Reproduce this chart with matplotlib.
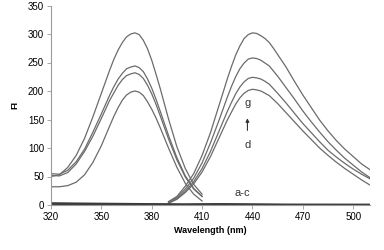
# Fluorescence excitation / emission spectra, curves d-g plus blanks a-c
import numpy as np
import matplotlib.pyplot as plt

# excitation side, 320-410 nm
ex_wl = [320, 325, 330, 335, 340, 345, 350, 355, 357.5, 360, 362.5, 365, 367.5, 370,
         372.5, 375, 377.5, 380, 382.5, 385, 390, 395, 400, 405, 410]
ex_g = [50, 53, 66, 87, 117, 155, 196, 237, 256, 272, 285, 295, 300, 302,
        299, 289, 274, 254, 230, 205, 151, 102, 64, 36, 19]
ex_f = [55, 54, 61, 76, 98, 128, 160, 193, 208, 221, 231, 239, 242, 244,
        241, 234, 221, 205, 186, 165, 122, 83, 51, 29, 15]
ex_e = [52, 51, 57, 72, 94, 121, 152, 184, 197, 210, 220, 227, 230, 232,
        229, 222, 210, 195, 177, 157, 116, 79, 49, 28, 15]
ex_d = [32, 32, 34, 40, 53, 75, 104, 139, 156, 171, 184, 193, 198, 200,
        198, 192, 181, 168, 153, 136, 100, 66, 38, 19, 7]

# emission side, 390-510 nm
em_wl = [390, 395, 400, 405, 410, 415, 420, 425, 427.5, 430, 432.5, 435, 437.5, 440,
         442.5, 445, 447.5, 450, 452.5, 455, 460, 465, 470, 475, 480, 485, 490, 495,
         500, 505, 510]
em_g = [6, 15, 33, 55, 87, 127, 174, 221, 243, 263, 279, 292, 299, 302,
        301, 297, 292, 285, 275, 264, 242, 217, 193, 171, 149, 130, 113, 98,
        85, 72, 62]
em_f = [5, 13, 28, 47, 74, 109, 148, 189, 208, 225, 239, 249, 256, 258,
        257, 254, 249, 244, 235, 226, 206, 186, 165, 146, 128, 111, 96, 82,
        70, 58, 48]
em_e = [4, 11, 24, 41, 64, 94, 129, 164, 180, 195, 207, 216, 222, 224,
        223, 221, 217, 212, 204, 196, 179, 161, 143, 127, 111, 96, 84, 73,
        63, 54, 46]
em_d = [3, 10, 22, 37, 58, 85, 117, 149, 163, 177, 188, 196, 201, 203,
        202, 200, 196, 192, 185, 178, 162, 146, 130, 115, 100, 87, 75, 64,
        54, 44, 35]

# blanks a-c, near zero over the whole range
blank_wl = [320, 340, 360, 380, 400, 420, 440, 460, 480, 500, 510]
blank_a = [3.5, 3, 2.5, 2, 1.5, 2, 1.5, 1, 1, 1, 1]
blank_b = [2.5, 2, 1.5, 1.2, 1, 1.5, 1, 0.8, 0.7, 0.6, 0.6]
blank_c = [1.5, 1, 0.8, 0.6, 0.5, 0.8, 0.5, 0.4, 0.3, 0.3, 0.3]

plt.rcParams['font.family'] = ['Liberation Sans', 'DejaVu Sans']

fig = plt.figure(figsize=(3.84, 2.5), dpi=100)
ax = fig.add_axes([0.1328, 0.18, 0.8307, 0.798])

line_col = "#6b6b6b"
for ys in [ex_g, ex_f, ex_e, ex_d]:
    ax.plot(ex_wl, ys, color=line_col, lw=0.9)
for ys in [em_g, em_f, em_e, em_d]:
    ax.plot(em_wl, ys, color=line_col, lw=0.9)
for ys in [blank_a, blank_b, blank_c]:
    ax.plot(blank_wl, ys, color="#3a3a3a", lw=1.1)

ax.set_xlim(320, 510)
ax.set_ylim(0, 350)
ax.set_xticks(range(320, 510, 30))
ax.set_yticks(range(0, 351, 50))
ax.tick_params(labelsize=7, length=3, width=0.6, color="#9a9a9a", pad=2)

for s in ['top', 'right']:
    ax.spines[s].set_visible(False)
for s in ['left', 'bottom']:
    ax.spines[s].set_color("#9a9a9a")
    ax.spines[s].set_linewidth(0.8)

ax.set_xlabel("Wavelength (nm)", fontsize=6.5, fontweight="bold", labelpad=3)
ax.set_ylabel("FI", fontsize=6.5, fontweight="bold", labelpad=6)

# labels on the chart
ax.text(437, 179, "g", fontsize=8, ha="center", va="center", color="#333333")
ax.text(437, 105, "d", fontsize=8, ha="center", va="center", color="#333333")
ax.annotate("", xy=(437, 157), xytext=(437, 126),
            arrowprops=dict(arrowstyle="-|>", color="#333333", lw=0.8,
                            mutation_scale=5))
ax.text(434, 21, "a-c", fontsize=8, ha="center", va="center", color="#333333")

fig.savefig("out.png", dpi=100)
